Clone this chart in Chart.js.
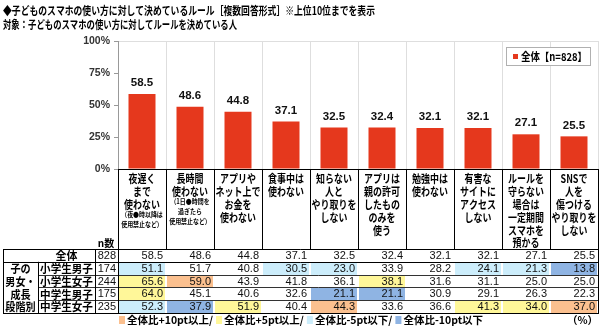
<!DOCTYPE html>
<html><head><meta charset="utf-8">
<script src="https://cdn.jsdelivr.net/npm/chart.js@4/dist/chart.umd.min.js"></script>
<style>html,body{margin:0;padding:0;background:#fff;}canvas{display:block;}</style>
</head><body>
<canvas id="c" width="600" height="326"></canvas>
<script>
// ---------- data ----------
const titleLine1 = '◆子どものスマホの使い方に対して決めているルール［複数回答形式］※上位10位までを表示';
const titleLine2 = '対象：子どものスマホの使い方に対してルールを決めている人';
const seriesLabel = '全体【n=828】';
const categories = [
  ['夜遅く','まで','使わない'],
  ['長時間','使わない'],
  ['アプリや','ネット上で','お金を','使わない'],
  ['食事中は','使わない'],
  ['知らない','人と','やり取りを','しない'],
  ['アプリは','親の許可','したもの','のみを','使う'],
  ['勉強中は','使わない'],
  ['有害な','サイトに','アクセス','しない'],
  ['ルールを','守らない','場合は','一定期間','スマホを','預かる'],
  ['SNSで','人を','傷つける','やり取りを','しない']
];
const categoryNotes = [
  ['（夜●時以降は','使用禁止など）'],
  ['（1日●時間を','過ぎたら','使用禁止など）'],
  [],[],[],[],[],[],[],[]
];
const yTicks = [0, 25, 50, 75, 100];
const overallLabel = '全体';
const overallN = 828;
const overallValues = [58.5, 48.6, 44.8, 37.1, 32.5, 32.4, 32.1, 32.1, 27.1, 25.5];
const groupLabelLines = ['子の', '男女・', '成長', '段階別'];
const segmentLabels = ['小学生男子', '小学生女子', '中学生男子', '中学生女子'];
const segmentN = [174, 244, 175, 235];
const elemBoys  = [51.1, 51.7, 40.8, 30.5, 23.0, 33.9, 28.2, 24.1, 21.3, 13.8];
const elemGirls = [65.6, 59.0, 43.9, 41.8, 36.1, 38.1, 31.6, 31.1, 25.0, 25.0];
const juniorBoys  = [64.0, 45.1, 40.6, 32.6, 21.1, 21.1, 30.9, 29.1, 26.3, 22.3];
const juniorGirls = [52.3, 37.9, 51.9, 40.4, 44.3, 33.6, 36.6, 41.3, 34.0, 37.0];
const segmentValues = [elemBoys, elemGirls, juniorBoys, juniorGirls];
const diffLegendLabels = ['全体比+10pt以上/', '全体比+5pt以上/', '全体比-5pt以下/', '全体比-10pt以下'];
const diffThresholds = [10, 5, -5, -10];
const nHeader = 'n数';
const unitLabel = '（%）';

// ---------- styles ----------
const BAR = '#e5381d';
const DIFF_COLORS = ['#fbc08f', '#fff799', '#ccedfb', '#8fb4e3'];
const JP = "'Noto Sans CJK JP', 'Noto Sans', sans-serif";
const NUM = "'Liberation Sans', Arial, sans-serif";

function cellColor(v, base) {
  const d = v - base;
  if (d >= diffThresholds[0]) return DIFF_COLORS[0];
  if (d >= diffThresholds[1]) return DIFF_COLORS[1];
  if (d <= diffThresholds[3]) return DIFF_COLORS[3];
  if (d <= diffThresholds[2]) return DIFF_COLORS[2];
  return null;
}
function txt(ctx, s, x, y, font, sx, align, color) {
  ctx.save();
  ctx.font = font;
  ctx.fillStyle = color || '#000';
  ctx.textBaseline = 'middle';
  ctx.textAlign = align;
  ctx.translate(x, y);
  ctx.scale(sx, 1);
  ctx.fillText(s, 0, 0);
  ctx.restore();
}
function hline(ctx, x1, x2, y, c) {
  ctx.beginPath(); ctx.strokeStyle = c || '#000'; ctx.lineWidth = 1;
  const yy = Math.round(y) + 0.5; ctx.moveTo(x1, yy); ctx.lineTo(x2, yy); ctx.stroke();
}
function vline(ctx, x, y1, y2, c) {
  ctx.beginPath(); ctx.strokeStyle = c || '#000'; ctx.lineWidth = 1;
  const xx = Math.round(x) - 0.5; ctx.moveTo(xx, y1); ctx.lineTo(xx, y2); ctx.stroke();
}

const labelPlugin = {
  id: 'valueLabels',
  afterDatasetsDraw(chart) {
    const ctx = chart.ctx;
    chart.getDatasetMeta(0).data.forEach((bar, i) => {
      txt(ctx, overallValues[i].toFixed(1), bar.x, bar.y - 11, 'bold 11.5px ' + NUM, 1, 'center', '#111');
    });
  }
};

const decorPlugin = {
  id: 'decor',
  afterDraw(chart) {
    const ctx = chart.ctx, xs = chart.scales.x, area = chart.chartArea;
    const n = categories.length;
    const colW = (xs.right - xs.left) / n;
    const cx = i => xs.getPixelForValue(i);
    const L = i => cx(i) - colW / 2, R = i => cx(i) + colW / 2;

    // title
    ctx.save();
    ctx.font = 'bold 11.5px ' + JP; ctx.fillStyle = '#000'; ctx.textBaseline = 'middle'; ctx.textAlign = 'left';
    ctx.fillText(titleLine1, 3, 10.5, 372);
    ctx.fillText(titleLine2, 3, 25, 234);
    ctx.restore();

    // series legend box
    const lx = 506, ly = area.top + 6, lw = 84, lh = 18;
    ctx.save();
    ctx.fillStyle = '#fff'; ctx.fillRect(lx, ly, lw, lh);
    ctx.strokeStyle = '#b0b0b0'; ctx.lineWidth = 1; ctx.strokeRect(lx + 0.5, ly + 0.5, lw, lh);
    ctx.fillStyle = BAR; ctx.fillRect(lx + 7, ly + 7, 5, 5);
    ctx.font = 'bold 11px ' + JP; ctx.fillStyle = '#000'; ctx.textBaseline = 'middle';
    ctx.fillText(seriesLabel, lx + 15, ly + 9.5, 66);
    ctx.restore();

    // header category labels
    const headTop = area.bottom, headBot = 249;
    for (let i = 0; i < n; i++) {
      const lines = categories[i];
      lines.forEach((s, k) => { txt(ctx, s, cx(i), 179 + k * 12.8, 'bold 11.5px ' + JP, 0.78, 'center'); });
      const lastY = 179 + (lines.length - 1) * 12.8;
      categoryNotes[i].forEach((s, k) => {
        txt(ctx, s, cx(i), lastY + 10 + k * 9.6, 'bold 7px ' + JP, 0.85, 'center');
      });
    }
    for (let i = 0; i <= n; i++) {
      const bx = i < n ? L(i) : R(n - 1);
      vline(ctx, bx + 0.5, headTop, headBot);
    }
    hline(ctx, L(0), R(n - 1), headTop);

    // n header
    txt(ctx, nHeader, 106, 243, 'bold 10.5px ' + JP, 0.95, 'center');

    // data table
    const rowH = 12.8, t0 = 249;
    const rowTop = r => t0 + r * rowH;
    const rows = [overallValues].concat(segmentValues);
    segmentValues.forEach((vals, r) => {
      vals.forEach((v, i) => {
        const c = cellColor(v, overallValues[i]);
        if (c) {
          ctx.fillStyle = c;
          ctx.fillRect(Math.round(L(i)) + 1, Math.round(rowTop(r + 1)) + 1, Math.round(colW) - 2, Math.round(rowH) - 1);
        }
      });
    });
    rows.forEach((vals, r) => {
      const yc = rowTop(r) + rowH / 2 + 0.5;
      vals.forEach((v, i) => txt(ctx, v.toFixed(1), R(i) - 3, yc, '11px ' + NUM, 1, 'right', '#111'));
    });
    txt(ctx, overallLabel, 66.5, rowTop(0) + rowH / 2 + 0.5, 'bold 11.5px ' + JP, 0.95, 'center');
    txt(ctx, String(overallN), 116, rowTop(0) + rowH / 2 + 0.5, '11px ' + NUM, 1, 'right', '#111');
    segmentLabels.forEach((s, r) => {
      const yc = rowTop(r + 1) + rowH / 2 + 0.5;
      txt(ctx, s, 66.5, yc, 'bold 11.5px ' + JP, 0.92, 'center');
      txt(ctx, String(segmentN[r]), 116, yc, '11px ' + NUM, 1, 'right', '#111');
      txt(ctx, groupLabelLines[r], 20.5, yc, 'bold 11.5px ' + JP, 0.88, 'center');
    });
    const tLeft = 3, tRight = R(n - 1) + 0.5;
    hline(ctx, tLeft, tRight, rowTop(0));
    hline(ctx, tLeft, tRight, rowTop(1));
    for (let r = 2; r <= 4; r++) hline(ctx, 38, tRight, rowTop(r), '#333');
    hline(ctx, tLeft, tRight, rowTop(5));
    vline(ctx, tLeft + 1, rowTop(0), rowTop(5) + 1);
    vline(ctx, 38.5, rowTop(1), rowTop(5) + 1);
    vline(ctx, 95.5, rowTop(0), rowTop(5) + 1);
    vline(ctx, L(0) + 0.5, rowTop(0), rowTop(5) + 1);
    vline(ctx, tRight, rowTop(0), rowTop(5) + 1);

    // diff legend
    let x = 119;
    const ly2 = 320;
    ctx.save();
    ctx.font = 'bold 10.5px ' + JP; ctx.textBaseline = 'middle'; ctx.textAlign = 'left';
    diffLegendLabels.forEach((s, k) => {
      ctx.fillStyle = DIFF_COLORS[k];
      ctx.fillRect(x, ly2 - 4, 6, 8);
      ctx.fillStyle = '#000';
      ctx.fillText(s, x + 8, ly2);
      x += 8 + ctx.measureText(s).width + 3;
    });
    ctx.textAlign = 'right';
    ctx.fillText(unitLabel, 598, ly2);
    ctx.restore();
  }
};

new Chart(document.getElementById('c').getContext('2d'), {
  type: 'bar',
  data: {
    labels: categories.map(c => c.join('')),
    datasets: [{
      label: seriesLabel,
      data: overallValues,
      backgroundColor: BAR,
      barPercentage: 0.5625,
      categoryPercentage: 1
    }]
  },
  options: {
    responsive: false,
    animation: false,
    layout: { padding: { top: 41, right: 2, bottom: 157, left: 0 } },
    plugins: { legend: { display: false }, tooltip: { enabled: false } },
    scales: {
      x: {
        ticks: { display: false },
        grid: { color: '#dedede', drawTicks: false, offset: true },
        border: { display: true, color: '#000' },
        afterFit(s) { s.height = 0; }
      },
      y: {
        min: yTicks[0], max: yTicks[yTicks.length - 1],
        afterBuildTicks(s) { s.ticks = yTicks.map(v => ({ value: v })); },
        ticks: { callback: v => v + '%', font: { family: NUM, size: 10.5, weight: 'bold' }, color: '#333', padding: 4 },
        grid: {
          color: c => (c.tick && c.tick.value === 100) ? '#dedede' : 'rgba(0,0,0,0)',
          tickColor: '#999', tickLength: 4
        },
        border: { color: '#999' },
        afterFit(s) { s.width = 118; }
      }
    }
  },
  plugins: [labelPlugin, decorPlugin]
});
</script>
</body></html>
